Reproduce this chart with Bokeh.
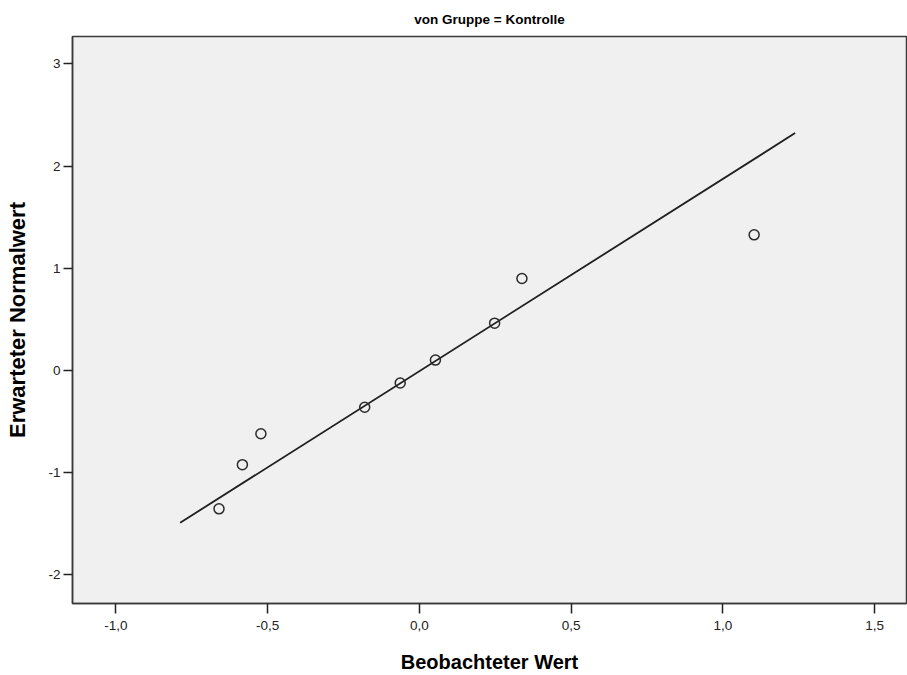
from bokeh.plotting import figure
from bokeh.models import Range1d, FixedTicker
from bokeh.embed import file_html
from bokeh.resources import INLINE

# ---- data ----
observed = [-0.660, -0.583, -0.522, -0.180, -0.063, 0.053, 0.248, 0.338, 1.103]
expected_normal = [-1.353, -0.921, -0.619, -0.359, -0.122, 0.102, 0.463, 0.900, 1.327]
line_x = [-0.788, 1.238]
line_y = [-1.489, 2.322]

x_ticks = [-1.0, -0.5, 0.0, 0.5, 1.0, 1.5]
x_tick_labels = ["-1,0", "-0,5", "0,0", "0,5", "1,0", "1,5"]
y_ticks = [-2, -1, 0, 1, 2, 3]
y_tick_labels = ["-2", "-1", "0", "1", "2", "3"]

title_text = "von Gruppe = Kontrolle"
x_title = "Beobachteter Wert"
y_title = "Erwarteter Normalwert"

FONT = "Liberation Sans"

p = figure(width=907, height=675, output_backend="svg", toolbar_location=None,
           x_range=Range1d(-1.1427, 1.605), y_range=Range1d(-2.279, 3.267),
           min_border_left=72, min_border_right=1, min_border_top=35,
           min_border_bottom=71, title=title_text)

p.background_fill_color = "#F0F0F0"
p.border_fill_color = "white"
p.outline_line_color = "#3a3a3a"
p.outline_line_width = 1.5
p.grid.visible = False

p.title.align = "center"
p.title.text_font = FONT
p.title.text_font_size = "13.5px"
p.title.text_font_style = "bold"
p.title.text_color = "black"
p.title.offset = 0
p.title.standoff = 19

p.xaxis.ticker = FixedTicker(ticks=x_ticks)
p.xaxis.major_label_overrides = {t: l for t, l in zip(x_ticks, x_tick_labels)}
p.yaxis.ticker = FixedTicker(ticks=y_ticks)
p.yaxis.major_label_overrides = {t: l for t, l in zip(y_ticks, y_tick_labels)}

for ax in (p.xaxis[0], p.yaxis[0]):
    ax.axis_line_color = "#3a3a3a"
    ax.axis_line_width = 1.5
    ax.major_tick_line_color = "#222222"
    ax.major_tick_line_width = 1.5
    ax.major_tick_out = 10
    ax.major_tick_in = 0
    ax.minor_tick_line_color = None
    ax.major_label_text_font = FONT
    ax.major_label_text_font_size = "13.5px"
    ax.major_label_text_color = "#222222"
    ax.axis_label_text_font = FONT
    ax.axis_label_text_font_style = "bold"
    ax.axis_label_text_color = "black"

p.xaxis.axis_label = x_title
p.yaxis.axis_label = y_title
p.xaxis.axis_label_text_font_size = "20px"
p.yaxis.axis_label_text_font_size = "22px"
p.xaxis.major_label_standoff = 7
p.yaxis.major_label_standoff = 3
p.yaxis.major_tick_out = 9
p.xaxis.axis_label_standoff = 18
p.yaxis.axis_label_standoff = 15

p.line(line_x, line_y, line_color="#1e1e1e", line_width=1.8)
p.scatter(observed, expected_normal, marker="circle", size=10,
          fill_color=None, line_color="#2a2a2a", line_width=1.5)

open("out.html", "w").write(file_html(p, INLINE))
